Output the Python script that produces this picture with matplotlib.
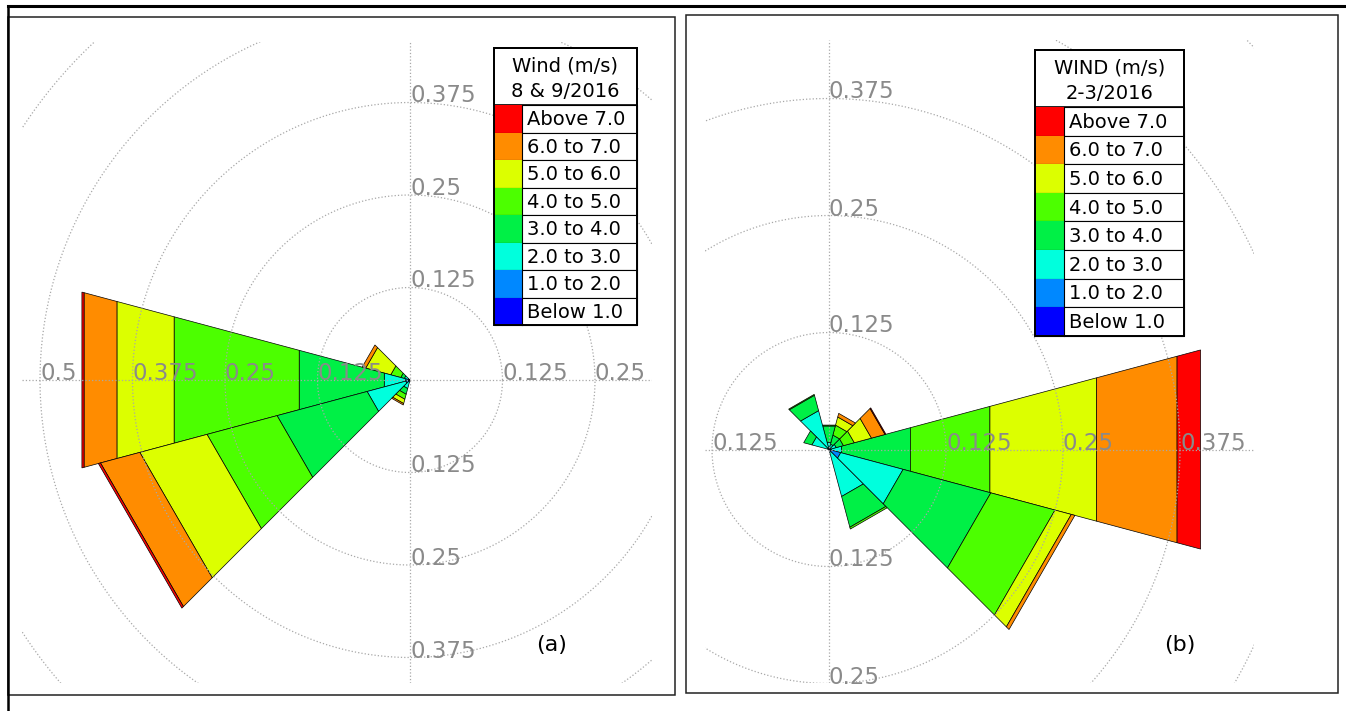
import matplotlib.pyplot as plt
import numpy as np
from matplotlib.patches import Polygon, Rectangle

W, H = 1346, 711

speed_labels = ['Below 1.0', '1.0 to 2.0', '2.0 to 3.0', '3.0 to 4.0',
                '4.0 to 5.0', '5.0 to 6.0', '6.0 to 7.0', 'Above 7.0']
speed_colors = ['#0000ff', '#0088ff', '#00ffdd', '#00f046',
                '#4cff00', '#dcff00', '#ff8c00', '#ff0000']

# sector centre (deg, counter-clockwise from east), 30 deg wide sectors
# frequency of each speed class, lowest class first
dirs_a = [150, 180, 210, 240]
freq_a = [
    [0.001, 0.002, 0.005, 0.005, 0.014, 0.035, 0.005, 0.000],
    [0.002, 0.004, 0.030, 0.119, 0.175, 0.080, 0.046, 0.003],
    [0.002, 0.004, 0.054, 0.126, 0.098, 0.094, 0.055, 0.003],
    [0.001, 0.002, 0.009, 0.008, 0.007, 0.006, 0.002, 0.000],
]

dirs_b = [0, 30, 60, 90, 120, 150, 300, 330]
freq_b = [
    [0.001, 0.002, 0.011, 0.076, 0.088, 0.118, 0.089, 0.026],
    [0.001, 0.001, 0.006, 0.008, 0.012, 0.019, 0.015, 0.001],
    [0.001, 0.001, 0.004, 0.010, 0.011, 0.009, 0.004, 0.000],
    [0.001, 0.001, 0.006, 0.018, 0.001, 0.000, 0.000, 0.000],
    [0.001, 0.001, 0.041, 0.017, 0.001, 0.000, 0.000, 0.000],
    [0.001, 0.001, 0.017, 0.009, 0.000, 0.000, 0.000, 0.000],
    [0.001, 0.002, 0.049, 0.034, 0.002, 0.000, 0.000, 0.000],
    [0.002, 0.011, 0.069, 0.097, 0.071, 0.018, 0.004, 0.000],
]

rings = [0.125, 0.25, 0.375, 0.5, 0.625, 0.75]

# ring labels: up, down, left, right
lab_a = ([0.125, 0.25, 0.375], [0.125, 0.25, 0.375], [0.125, 0.25, 0.375, 0.5], [0.125, 0.25])
lab_b = ([0.125, 0.25, 0.375], [0.125, 0.25], [0.125], [0.125, 0.25, 0.375])

title_a = ['Wind (m/s)', '8 & 9/2016']
title_b = ['WIND (m/s)', '2-3/2016']


def px_box(x0, y0, x1, y1):
    return [x0 / W, 1 - y1 / H, (x1 - x0) / W, (y1 - y0) / H]


def rose(ax, dirs, freqs, labs):
    for d, f in zip(dirs, freqs):
        cum = np.concatenate([[0], np.cumsum(f)])
        t1, t2 = np.radians(d - 15), np.radians(d + 15)
        for k in range(len(f)):
            r0, r1 = cum[k], cum[k + 1]
            if r1 - r0 <= 0:
                continue
            pts = [(r0 * np.cos(t1), r0 * np.sin(t1)), (r1 * np.cos(t1), r1 * np.sin(t1)),
                   (r1 * np.cos(t2), r1 * np.sin(t2)), (r0 * np.cos(t2), r0 * np.sin(t2))]
            ax.add_patch(Polygon(pts, closed=True, fc=speed_colors[k], ec='black',
                                 lw=0.5, zorder=2))
    th = np.linspace(0, 2 * np.pi, 400)
    for r in rings:
        ax.plot(r * np.cos(th), r * np.sin(th), ls=':', color='#a8a8a8', lw=0.9, zorder=3)
    ax.axhline(0, ls=':', color='#a8a8a8', lw=0.9, zorder=3)
    ax.axvline(0, ls=':', color='#a8a8a8', lw=0.9, zorder=3)
    up, down, left, right = labs
    kw = dict(ha='left', va='baseline', color='#8a8a8a', fontsize=16.5, zorder=4, clip_on=False)
    for v in up:
        ax.text(0, v, f'{v:g}', **kw)
    for v in down:
        ax.text(0, -v, f'{v:g}', **kw)
    for v in left:
        ax.text(-v, 0, f'{v:g}', **kw)
    for v in right:
        ax.text(v, 0, f'{v:g}', **kw)
    ax.axis('off')


def legend(ax, x0, x1, xs, y0, yh, rh, titles):
    ax.add_patch(Rectangle((x0, y0), x1 - x0, yh - y0, fc='white', ec='black', lw=1.2, zorder=5))
    ax.text((x0 + x1) / 2, y0 + (yh - y0) * 0.32, titles[0], ha='center', va='center',
            fontsize=14, zorder=6)
    ax.text((x0 + x1) / 2, y0 + (yh - y0) * 0.76, titles[1], ha='center', va='center',
            fontsize=14, zorder=6)
    for i, (lab, c) in enumerate(zip(speed_labels[::-1], speed_colors[::-1])):
        y = yh + i * rh
        ax.add_patch(Rectangle((x0, y), x1 - x0, rh, fc='white', ec='black', lw=0.8, zorder=5))
        ax.add_patch(Rectangle((x0, y), xs - x0, rh, fc=c, ec='none', zorder=5))
        ax.text(xs + 5, y + rh / 2 + 1, lab, ha='left', va='center', fontsize=14, zorder=6)
    ax.add_patch(Rectangle((x0, y0), x1 - x0, yh + 8 * rh - y0, fc='none', ec='black',
                           lw=1.4, zorder=7))
    ax.plot([xs, xs], [yh, yh + 8 * rh], color='black', lw=0.8, zorder=7)


fig = plt.figure(figsize=(W / 100, H / 100), dpi=100)

# panel (a): centre at pixel (410, 380), 740 px per unit
ax1 = fig.add_axes(px_box(22, 42, 652, 683))
ax1.set_xlim((22 - 410) / 740, (652 - 410) / 740)
ax1.set_ylim((380 - 683) / 740, (380 - 42) / 740)
rose(ax1, dirs_a, freq_a, lab_a)

# panel (b): centre at pixel (829, 449.5), 936 px per unit
ax2 = fig.add_axes(px_box(705, 40, 1254, 683))
ax2.set_xlim((705 - 829) / 936, (1254 - 829) / 936)
ax2.set_ylim((449.5 - 683) / 936, (449.5 - 40) / 936)
rose(ax2, dirs_b, freq_b, lab_b)

# frames and legends in pixel coordinates
ov = fig.add_axes([0, 0, 1, 1], zorder=10)
ov.set_xlim(0, W)
ov.set_ylim(H, 0)
ov.axis('off')
ov.patch.set_alpha(0)

ov.plot([8, W], [6, 6], color='black', lw=2.2)
ov.plot([8, 8], [6, H], color='black', lw=1.8)
ov.add_patch(Rectangle((8, 17), 667, 678, fc='none', ec='#222222', lw=1.1))
ov.add_patch(Rectangle((686, 15), 652, 678, fc='none', ec='#222222', lw=1.1))

legend(ov, 494, 637, 522, 48, 105, 27.5, title_a)
legend(ov, 1035, 1184, 1064, 50, 107, 28.6, title_b)

ov.text(552, 645, '(a)', ha='center', va='center', fontsize=16)
ov.text(1180, 645, '(b)', ha='center', va='center', fontsize=16)

fig.savefig('out.png', dpi=100)
